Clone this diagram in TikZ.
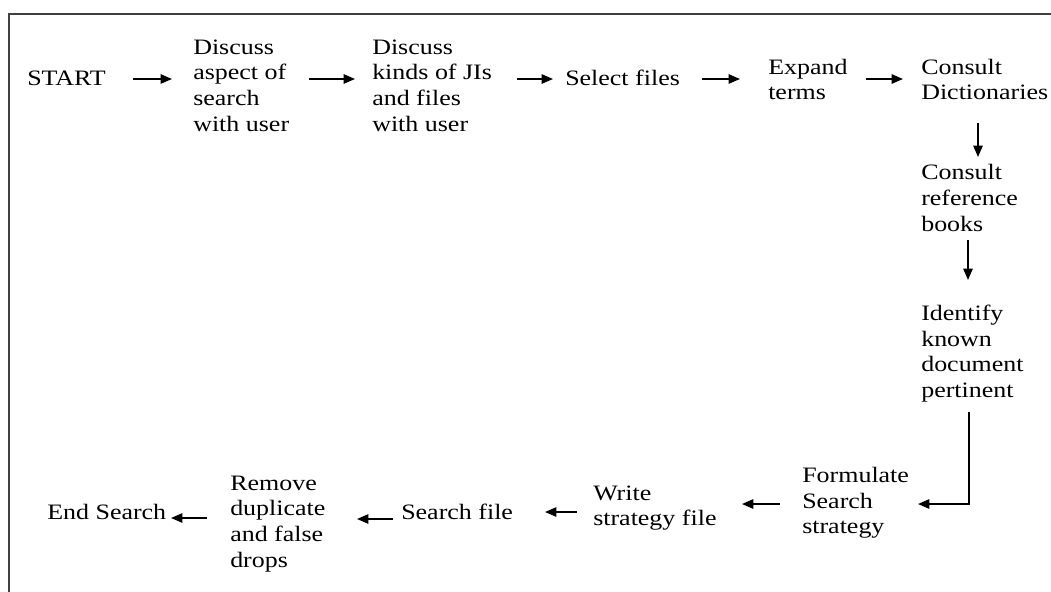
\documentclass[tikz,border=0pt]{standalone}
\usepackage{fontspec}
\setmainfont{Liberation Serif}[FakeStretch=1.18]
\usetikzlibrary{arrows.meta,calc}
\begin{document}
\begin{tikzpicture}[x=0.75pt,y=-0.75pt,
  lbl/.style={anchor=west,inner sep=0pt,align=left,font=\fontsize{16.5}{19.3}\selectfont,text=black},
  arr/.style={line width=1.2pt,-{Triangle[length=8.5pt,width=7pt]}}]
\useasboundingbox (0,0) rectangle (1051,592);
\fill[white] (0,0) rectangle (1051,592);
\begin{scope}
\clip (0,0) rectangle (1051,592);
\draw[line width=1.5pt,draw=black!75] (9,14) rectangle (1070,610);
\end{scope}
\node[lbl] (start) at (27,78) {START};
\node[lbl] (d1) at (193,85.5) {Discuss\\aspect of\\search\\with user};
\node[lbl] (d2) at (372,85.5) {Discuss\\kinds of JIs\\and files\\with user};
\node[lbl] (sel) at (565,78) {Select files};
\node[lbl] (exp) at (768,79.5) {Expand\\terms};
\node[lbl] (dict) at (921,79.5) {Consult\\Dictionaries};
\node[lbl] (ref) at (921,198) {Consult\\reference\\books};
\node[lbl] (ident) at (921,353.5) {Identify\\known\\document\\pertinent};
\node[lbl] (form) at (802,503) {Formulate\\Search\\strategy};
\node[lbl] (write) at (593,508) {Write\\strategy file};
\node[lbl] (sfile) at (401,512) {Search file};
\node[lbl] (rem) at (230,524) {Remove\\duplicate\\and false\\drops};
\node[lbl] (end) at (47,512) {End Search};
\draw[arr] ($(start.west)+(106,1)$) -- ($(d1.west)+(-21,-6.5)$);
\draw[arr] ($(d1.west)+(116,-6.5)$) -- ($(d2.west)+(-17,-6.5)$);
\draw[arr] ($(d2.west)+(145,-6.5)$) -- ($(sel.west)+(-12,1)$);
\draw[arr] ($(sel.west)+(137,1)$) -- ($(exp.west)+(-28,-0.5)$);
\draw[arr] ($(exp.west)+(98,-0.5)$) -- ($(dict.west)+(-18,-0.5)$);
\draw[arr] ($(dict.west)+(57,43.5)$) -- ($(ref.west)+(57,-41)$);
\draw[arr] ($(ref.west)+(47,42)$) -- ($(ident.west)+(47,-73.5)$);
\draw[arr] ($(ident.west)+(48,58.5)$) |- ($(form.west)+(116,1)$);
\draw[arr] ($(form.west)+(-22,1)$) -- ($(write.west)+(149,-4)$);
\draw[arr] ($(write.west)+(-16,4)$) -- ($(sfile.west)+(144,0)$);
\draw[arr] ($(sfile.west)+(-8,7)$) -- ($(rem.west)+(127,-5)$);
\draw[arr] ($(rem.west)+(-23,-6)$) -- ($(end.west)+(124,6)$);
\end{tikzpicture}
\end{document}
